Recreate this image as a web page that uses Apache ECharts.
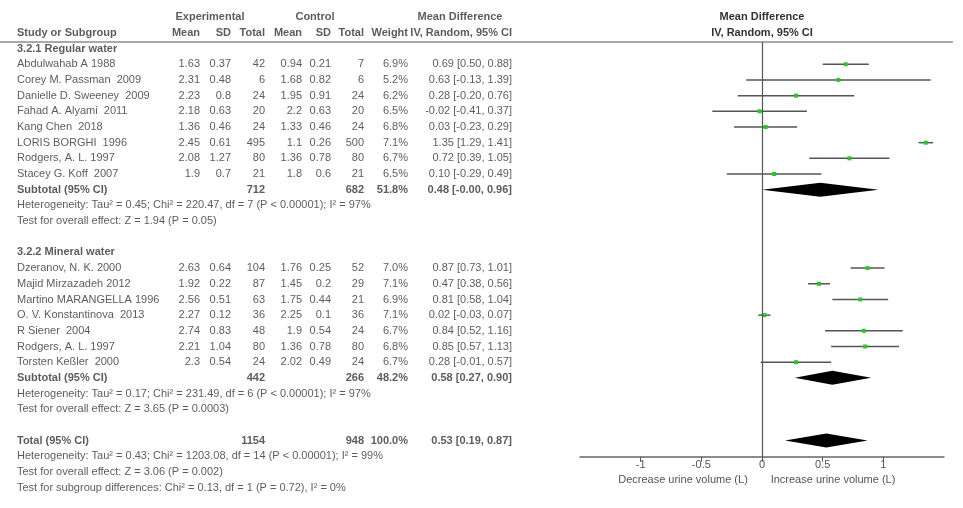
<!DOCTYPE html>
<html><head><meta charset="utf-8">
<script src="https://cdn.jsdelivr.net/npm/echarts@6/dist/echarts.min.js"></script>
<style>html,body{margin:0;background:#fff}#main{width:963px;height:508px}</style>
</head><body><div id="main"></div>
<script>
// study rows
var studies = ['Abdulwahab A 1988', 'Corey M. Passman  2009', 'Danielle D. Sweeney  2009', 'Fahad A. Alyami  2011',
  'Kang Chen  2018', 'LORIS BORGHI  1996', 'Rodgers, A. L. 1997', 'Stacey G. Koff  2007',
  'Dzeranov, N. K. 2000', 'Majid Mirzazadeh 2012', 'Martino MARANGELLA 1996', 'O. V. Konstantinova  2013',
  'R Siener  2004', 'Rodgers, A. L. 1997', 'Torsten Keßler  2000'];
var studyRow = [0, 1, 2, 3, 4, 5, 6, 7, 13, 14, 15, 16, 17, 18, 19];
var expMean = ['1.63', '2.31', '2.23', '2.18', '1.36', '2.45', '2.08', '1.9', '2.63', '1.92', '2.56', '2.27', '2.74', '2.21', '2.3'];
var expSD = ['0.37', '0.48', '0.8', '0.63', '0.46', '0.61', '1.27', '0.7', '0.64', '0.22', '0.51', '0.12', '0.83', '1.04', '0.54'];
var expN = [42, 6, 24, 20, 24, 495, 80, 21, 104, 87, 63, 36, 48, 80, 24];
var ctlMean = ['0.94', '1.68', '1.95', '2.2', '1.33', '1.1', '1.36', '1.8', '1.76', '1.45', '1.75', '2.25', '1.9', '1.36', '2.02'];
var ctlSD = ['0.21', '0.82', '0.91', '0.63', '0.46', '0.26', '0.78', '0.6', '0.25', '0.2', '0.44', '0.1', '0.54', '0.78', '0.49'];
var ctlN = [7, 6, 24, 20, 24, 500, 80, 21, 52, 29, 21, 36, 24, 80, 24];
var weight = ['6.9%', '5.2%', '6.2%', '6.5%', '6.8%', '7.1%', '6.7%', '6.5%', '7.0%', '7.1%', '6.9%', '7.1%', '6.7%', '6.8%', '6.7%'];
var md = [0.69, 0.63, 0.28, -0.02, 0.03, 1.35, 0.72, 0.10, 0.87, 0.47, 0.81, 0.02, 0.84, 0.85, 0.28];
var lo = [0.50, -0.13, -0.20, -0.41, -0.23, 1.29, 0.39, -0.29, 0.73, 0.38, 0.58, -0.03, 0.52, 0.57, -0.01];
var hi = [0.88, 1.39, 0.76, 0.37, 0.29, 1.41, 1.05, 0.49, 1.01, 0.56, 1.04, 0.07, 1.16, 1.13, 0.57];

// pooled rows
var poolLabel = ['Subtotal (95% CI)', 'Subtotal (95% CI)', 'Total (95% CI)'];
var poolRow = [8, 20, 24];
var poolExpN = [712, 442, 1154];
var poolCtlN = [682, 266, 948];
var poolWeight = ['51.8%', '48.2%', '100.0%'];
var poolMd = [0.48, 0.58, 0.53];
var poolLo = [-0.00, 0.27, 0.19];
var poolHi = [0.96, 0.90, 0.87];

var groupTitles = ['3.2.1 Regular water', '3.2.2 Mineral water'];
var groupRow = [-1, 12];
var notes = [
  'Heterogeneity: Tau\u00b2 = 0.45; Chi\u00b2 = 220.47, df = 7 (P < 0.00001); I\u00b2 = 97%',
  'Test for overall effect: Z = 1.94 (P = 0.05)',
  'Heterogeneity: Tau\u00b2 = 0.17; Chi\u00b2 = 231.49, df = 6 (P < 0.00001); I\u00b2 = 97%',
  'Test for overall effect: Z = 3.65 (P = 0.0003)',
  'Heterogeneity: Tau\u00b2 = 0.43; Chi\u00b2 = 1203.08, df = 14 (P < 0.00001); I\u00b2 = 99%',
  'Test for overall effect: Z = 3.06 (P = 0.002)',
  'Test for subgroup differences: Chi\u00b2 = 0.13, df = 1 (P = 0.72), I\u00b2 = 0%'
];
var noteRow = [9, 10, 21, 22, 25, 26, 27];
var xTicks = [-1, -0.5, 0, 0.5, 1];

var FONT = 'Liberation Sans';
var TXT = '#333';
function ci(a, b, c) {
  function f(v) { return (v === 0 && 1 / v < 0 ? '-0.00' : v.toFixed(2)); }
  return f(a) + ' [' + f(b) + ', ' + f(c) + ']';
}

// columns (pixel x within the table grid) and alignment
var cols = [
  { x: 17, al: 'l' }, { x: 200, al: 'r' }, { x: 231, al: 'r' }, { x: 265, al: 'r' },
  { x: 302, al: 'r' }, { x: 331, al: 'r' }, { x: 364, al: 'r' }, { x: 408, al: 'r' }, { x: 512, al: 'r' }
];

function textSeries(items, bold) {
  return {
    type: 'scatter', xAxisIndex: 1, yAxisIndex: 1, symbolSize: 0, silent: true,
    data: items.map(function (it) {
      return {
        value: [it.x, it.r],
        label: {
          show: true, formatter: String(it.t), distance: 0,
          position: it.al === 'l' ? 'right' : (it.al === 'c' ? 'inside' : 'left'),
          fontFamily: FONT, fontSize: 11, color: TXT, fontWeight: bold ? 'bold' : 'normal'
        }
      };
    })
  };
}

var plain = [], bold = [];
studies.forEach(function (s, i) {
  var r = studyRow[i];
  var vals = [s, expMean[i], expSD[i], expN[i], ctlMean[i], ctlSD[i], ctlN[i], weight[i], ci(md[i], lo[i], hi[i])];
  vals.forEach(function (v, k) { plain.push({ x: cols[k].x, al: cols[k].al, r: r, t: v }); });
});
poolLabel.forEach(function (s, i) {
  var r = poolRow[i];
  bold.push({ x: cols[0].x, al: 'l', r: r, t: s });
  bold.push({ x: cols[3].x, al: 'r', r: r, t: poolExpN[i] });
  bold.push({ x: cols[6].x, al: 'r', r: r, t: poolCtlN[i] });
  bold.push({ x: cols[7].x, al: 'r', r: r, t: poolWeight[i] });
  bold.push({ x: cols[8].x, al: 'r', r: r, t: ci(poolMd[i], poolLo[i], poolHi[i]) });
});
groupTitles.forEach(function (g, i) { bold.push({ x: 17, al: 'l', r: groupRow[i], t: g }); });
notes.forEach(function (n, i) { plain.push({ x: 17, al: 'l', r: noteRow[i], t: n }); });
// header
bold.push({ x: 210, al: 'c', r: -3, t: 'Experimental' });
bold.push({ x: 315, al: 'c', r: -3, t: 'Control' });
bold.push({ x: 460, al: 'c', r: -3, t: 'Mean Difference' });
var hdr = ['Study or Subgroup', 'Mean', 'SD', 'Total', 'Mean', 'SD', 'Total', 'Weight', 'IV, Random, 95% CI'];
hdr.forEach(function (h, k) { bold.push({ x: cols[k].x, al: cols[k].al, r: -2, t: h }); });

var ROW_MIN = -4.1, ROW_AXIS = 25.03, ROW_MAX = 28.3;

var chart = echarts.init(document.getElementById('main'));
chart.setOption({
  backgroundColor: '#fff',
  animation: false,
  grid: [
    { left: 580, width: 364, top: 0, height: 456.7 },
    { left: 0, width: 580, top: 0, height: 508 }
  ],
  xAxis: [
    {
      gridIndex: 0, type: 'value', min: -1.5, max: 1.5, interval: 0.5, position: 'bottom',
      splitLine: { show: false },
      axisLine: { onZero: false, lineStyle: { color: '#666', width: 1.5 } },
      axisTick: { customValues: xTicks, length: 5, lineStyle: { color: '#555' } },
      axisLabel: { customValues: xTicks, color: '#555', fontFamily: FONT, fontSize: 11, margin: 3,
        formatter: function (v) { return String(v); } }
    },
    { gridIndex: 1, type: 'value', min: 0, max: 580, show: false }
  ],
  yAxis: [
    { gridIndex: 0, type: 'value', inverse: true, min: ROW_MIN, max: ROW_AXIS, show: false },
    { gridIndex: 1, type: 'value', inverse: true, min: ROW_MIN, max: ROW_MAX, show: false }
  ],
  graphic: [
    { type: 'line', shape: { x1: 0, y1: 42, x2: 953, y2: 42 }, style: { stroke: '#555', lineWidth: 1.2 } },
    { type: 'text', x: 762, y: 11, style: { text: 'Mean Difference', align: 'center', font: 'bold 11px "Liberation Sans"', fill: TXT } },
    { type: 'text', x: 762, y: 27, style: { text: 'IV, Random, 95% CI', align: 'center', font: 'bold 11px "Liberation Sans"', fill: TXT } },
    { type: 'text', x: 683, y: 474, style: { text: 'Decrease urine volume (L)', align: 'center', font: '11px "Liberation Sans"', fill: '#555' } },
    { type: 'text', x: 833, y: 474, style: { text: 'Increase urine volume (L)', align: 'center', font: '11px "Liberation Sans"', fill: '#555' } }
  ],
  series: [
    {
      type: 'custom', xAxisIndex: 0, yAxisIndex: 0, silent: true,
      data: md.map(function (m, i) { return [lo[i], m, hi[i], studyRow[i]]; }),
      markLine: {
        silent: true, symbol: 'none', label: { show: false },
        lineStyle: { color: '#555', type: 'solid', width: 1.2 },
        data: [[{ coord: [0, -1.42] }, { coord: [0, ROW_AXIS] }]]
      },
      renderItem: function (params, api) {
        var a = api.coord([api.value(0), api.value(3)]);
        var m = api.coord([api.value(1), api.value(3)]);
        var b = api.coord([api.value(2), api.value(3)]);
        return {
          type: 'group', children: [
            { type: 'line', shape: { x1: a[0], y1: a[1], x2: b[0], y2: b[1] }, style: { stroke: '#555', lineWidth: 1.5 } },
            { type: 'rect', shape: { x: m[0] - 2, y: m[1] - 2, width: 4, height: 4 }, style: { fill: '#22cc22' } }
          ]
        };
      }
    },
    {
      type: 'custom', xAxisIndex: 0, yAxisIndex: 0, silent: true,
      data: poolMd.map(function (m, i) { return [poolLo[i], m, poolHi[i], poolRow[i]]; }),
      renderItem: function (params, api) {
        var a = api.coord([api.value(0), api.value(3)]);
        var m = api.coord([api.value(1), api.value(3)]);
        var b = api.coord([api.value(2), api.value(3)]);
        return {
          type: 'polygon',
          shape: { points: [[a[0], a[1]], [m[0], m[1] - 7], [b[0], b[1]], [m[0], m[1] + 7]] },
          style: { fill: '#000' }
        };
      }
    },
    textSeries(plain, false),
    textSeries(bold, true)
  ]
});
</script>
</body></html>
